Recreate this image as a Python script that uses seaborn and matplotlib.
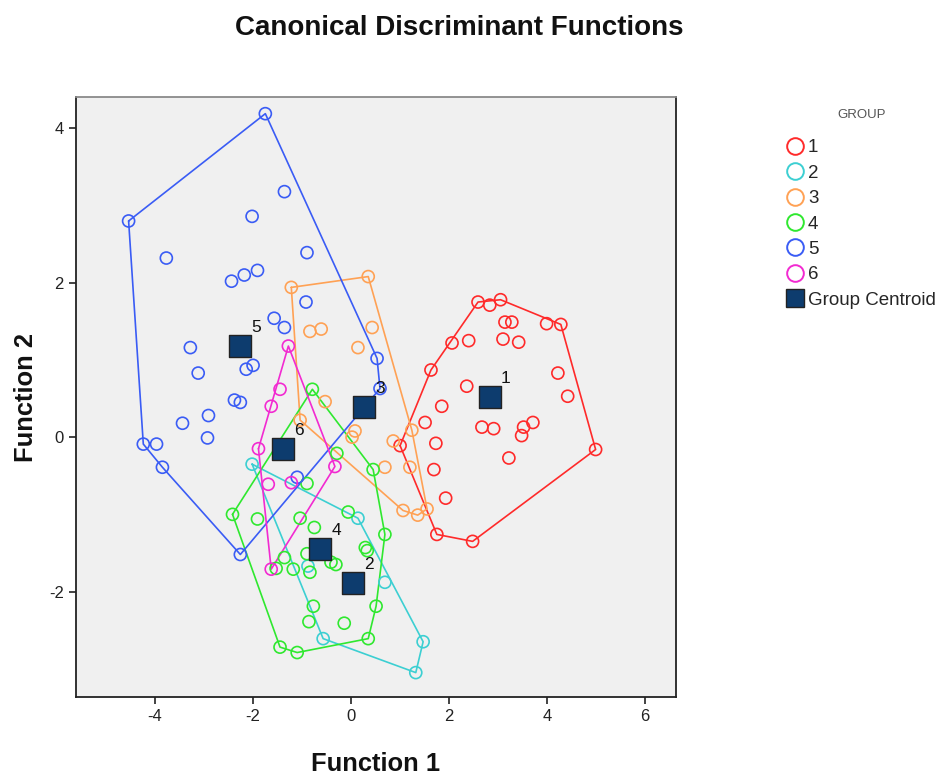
import numpy as np
import pandas as pd
import matplotlib
matplotlib.use("Agg")
import matplotlib.pyplot as plt
from matplotlib.lines import Line2D
import seaborn as sns

# ---- data (discriminant scores) ----
g1_x = [2.59, 2.83, 3.05, 3.14, 3.28, 3.99, 4.28, 2.06, 2.40, 3.10, 3.42, 1.63, 2.36, 4.22, 4.42,
        1.85, 1.51, 2.67, 2.91, 3.71, 3.52, 3.48, 1.00, 1.73, 3.22, 4.99, 1.69, 1.93, 1.75, 2.48]
g1_y = [1.75, 1.71, 1.78, 1.49, 1.49, 1.47, 1.46, 1.22, 1.25, 1.27, 1.23, 0.87, 0.66, 0.83, 0.53,
        0.40, 0.19, 0.13, 0.11, 0.19, 0.13, 0.02, -0.11, -0.08, -0.27, -0.16, -0.42, -0.79, -1.26, -1.35]

g2_x = [-2.02, 0.14, -0.88, 0.69, -0.57, 1.47, 1.32]
g2_y = [-0.35, -1.05, -1.67, -1.88, -2.61, -2.65, -3.05]

g3_x = [-1.22, 0.35, -0.84, -0.61, 0.43, 0.14, -0.53, -1.04, 0.02, 0.08, 0.86, 1.24, 0.69, 1.20,
        1.06, 1.36, 1.55]
g3_y = [1.94, 2.08, 1.37, 1.40, 1.42, 1.16, 0.46, 0.22, 0.00, 0.08, -0.05, 0.09, -0.39, -0.39,
        -0.95, -1.01, -0.93]

g4_x = [-0.79, -0.29, 0.45, -0.90, -2.42, -1.91, -1.04, -0.06, -0.75, 0.69, 0.29, 0.33, -1.36,
        -0.90, -0.41, -0.31, -1.53, -1.18, -0.84, -0.77, 0.51, -0.86, -0.14, 0.35, -1.45, -1.10]
g4_y = [0.62, -0.21, -0.42, -0.60, -1.00, -1.06, -1.05, -0.97, -1.17, -1.26, -1.43, -1.47, -1.56,
        -1.51, -1.62, -1.65, -1.70, -1.71, -1.75, -2.19, -2.19, -2.39, -2.41, -2.61, -2.72, -2.79]

g5_x = [-4.54, -1.75, -2.02, -3.77, -2.44, -2.18, -1.91, -1.36, -0.90, -1.57, -1.36, -0.92, -3.28,
        -3.12, -2.14, -2.00, -2.38, -2.26, -2.91, -3.44, -2.93, -4.24, -3.97, -3.85, 0.53, 0.59,
        -1.10, -2.26]
g5_y = [2.80, 4.19, 2.86, 2.32, 2.02, 2.10, 2.16, 3.18, 2.39, 1.54, 1.42, 1.75, 1.16,
        0.83, 0.88, 0.93, 0.48, 0.45, 0.28, 0.18, -0.01, -0.09, -0.09, -0.39, 1.02, 0.63,
        -0.52, -1.52]

g6_x = [-1.28, -1.45, -1.63, -1.89, -0.33, -1.69, -1.22, -1.63]
g6_y = [1.18, 0.62, 0.40, -0.15, -0.38, -0.61, -0.59, -1.71]

groups = ["1", "2", "3", "4", "5", "6"]
centroid_x = [2.83, 0.04, 0.26, -0.63, -2.26, -1.38]
centroid_y = [0.52, -1.89, 0.39, -1.45, 1.18, -0.16]

x_ticks = [-4, -2, 0, 2, 4, 6]
y_ticks = [-2, 0, 2, 4]

colors = ["#ff2a2a", "#3ccfd2", "#ffa154", "#2fe82f", "#3a5cf5", "#f22ad1"]
centroid_color = "#0d3c6e"

xs = [g1_x, g2_x, g3_x, g4_x, g5_x, g6_x]
ys = [g1_y, g2_y, g3_y, g4_y, g5_y, g6_y]
df = pd.concat([pd.DataFrame({"f1": x, "f2": y, "group": g}) for x, y, g in zip(xs, ys, groups)],
               ignore_index=True)
cdf = pd.DataFrame({"f1": centroid_x, "f2": centroid_y, "group": groups})


def convex_hull(points):
    pts = sorted(set(points))
    if len(pts) < 3:
        return pts

    def cross(o, a, b):
        return (a[0] - o[0]) * (b[1] - o[1]) - (a[1] - o[1]) * (b[0] - o[0])

    lower, upper = [], []
    for p in pts:
        while len(lower) >= 2 and cross(lower[-2], lower[-1], p) <= 0:
            lower.pop()
        lower.append(p)
    for p in reversed(pts):
        while len(upper) >= 2 and cross(upper[-2], upper[-1], p) <= 0:
            upper.pop()
        upper.append(p)
    return lower[:-1] + upper[:-1]


sns.set_theme(style="white")
plt.rcParams["font.family"] = ["Liberation Sans", "DejaVu Sans"]
plt.rcParams["axes.unicode_minus"] = False

fig = plt.figure(figsize=(9.39, 7.76), dpi=100)
ax = fig.add_axes([0.0806, 0.1014, 0.6393, 0.774])
ax.set_facecolor("#f0f0f0")

for g, col in zip(groups, colors):
    sub = df[df["group"] == g]
    hull = convex_hull(list(zip(sub["f1"], sub["f2"])))
    hull = hull + [hull[0]]
    hx, hy = zip(*hull)
    ax.plot(hx, hy, color=col, lw=1.2, zorder=2)
    sns.scatterplot(data=sub, x="f1", y="f2", ax=ax, marker="o", s=75,
                    facecolor="none", edgecolor=col, linewidth=1.2, legend=False, zorder=3)

sns.scatterplot(data=cdf, x="f1", y="f2", ax=ax, marker="s", s=230, color=centroid_color,
                edgecolor="#222222", linewidth=1.0, legend=False, zorder=4)
for _, r in cdf.iterrows():
    ax.annotate(r["group"], (r["f1"], r["f2"]), xytext=(11.5, 13.5), textcoords="offset points",
                ha="center", va="center", fontsize=12.5, color="#111111", zorder=5)

ax.set_xlim(-5.62, 6.63)
ax.set_ylim(-3.37, 4.41)
ax.set_xticks(x_ticks)
ax.set_yticks(y_ticks)
ax.tick_params(axis="both", which="major", direction="out", length=5, width=1.2,
               labelsize=12, color="#222222", labelcolor="#222222", bottom=True, left=True)
for side in ["left", "bottom", "right"]:
    ax.spines[side].set_color("#222222")
    ax.spines[side].set_linewidth(1.3)
ax.spines["top"].set_color("#8a8a8a")
ax.spines["top"].set_linewidth(1.3)

ax.set_xlabel("Function 1", fontsize=18.4, fontweight="bold", labelpad=20, color="#111111")
ax.set_ylabel("Function 2", fontsize=18.4, fontweight="bold", color="#111111")
ax.yaxis.set_label_coords(-0.062, 0.5)

fig.text(459 / 939, 1 - 35 / 776, "Canonical Discriminant Functions", ha="center", va="baseline",
         fontsize=20, fontweight="bold", color="#111111")

fig.text(862 / 939, 1 - 115 / 776, "GROUP", ha="center", va="center", fontsize=9.5,
         color="#555555")

handles = [Line2D([0], [0], marker="o", linestyle="none", markersize=12, markerfacecolor="none",
                  markeredgecolor=c, markeredgewidth=1.4) for c in colors]
handles.append(Line2D([0], [0], marker="s", linestyle="none", markersize=13,
                      markerfacecolor=centroid_color, markeredgecolor="#222222", markeredgewidth=1.0))
labels = groups + ["Group Centroid"]
leg = fig.legend(handles, labels, loc="upper left",
                 bbox_to_anchor=(785.6 / 939, 1 - 139 / 776), frameon=False, fontsize=13.5,
                 handlelength=1.0, handletextpad=0.19, labelspacing=0.445,
                 borderaxespad=0, borderpad=0)

fig.savefig("out.png", dpi=100, facecolor="white")
